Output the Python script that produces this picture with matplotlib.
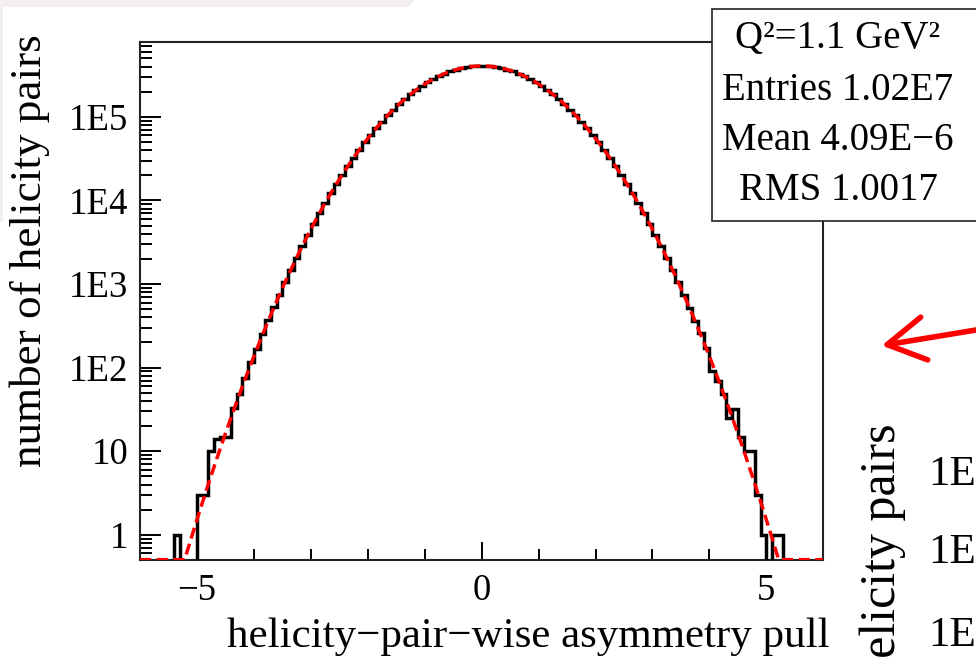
import numpy as np
import matplotlib
matplotlib.use("Agg")
import matplotlib.pyplot as plt
from matplotlib.patches import Rectangle, Polygon, FancyArrowPatch
from matplotlib.ticker import FixedLocator, FixedFormatter, LogLocator, NullFormatter, MultipleLocator

# ---------------- data ----------------
x_range = (-6.0, 6.0)
n_bins = 120
# histogram contents (bin width 0.1, from -6 to 6)
counts = [
    0, 0, 0, 0, 0, 0, 1, 0, 0, 0,
    3, 3, 10, 14, 15, 15, 33, 48, 76, 118,
    166, 250, 370, 525, 746, 1059, 1488, 2069, 2850, 3886,
    5245, 7010, 9274, 12150, 15760, 20240, 25720, 32370, 40340, 49770,
    60790, 73510, 88000, 104310, 122410, 142210, 163580, 186290, 210040, 234470,
    259130, 283530, 307150, 329410, 349780, 367720, 382730, 394380, 402350, 406390,
    406390, 402350, 394380, 382730, 367720, 349780, 329410, 307150, 283530, 259130,
    234470, 210040, 186290, 163580, 142210, 122410, 104310, 88000, 73510, 60790,
    49770, 40340, 32370, 25720, 20240, 15760, 12150, 9274, 7010, 5245,
    3886, 2850, 2069, 1488, 1059, 746, 521, 360, 257, 170,
    90, 70, 48, 25, 32, 15, 10, 10, 3, 1,
    0, 1, 1, 0, 0, 0, 0, 0, 0, 0,
]
# gaussian fit parameters
fit_amplitude = 4.07e5
fit_mean = 0.0
fit_sigma = 1.0

y_ticks = [1, 10, 1e2, 1e3, 1e4, 1e5]
y_tick_labels = ["1", "10", "1E2", "1E3", "1E4", "1E5"]
x_ticks = [-5, 0, 5]
x_tick_labels = ["\u22125", "0", "5"]

stats_lines = ["Q\u00b2=1.1 GeV\u00b2", "Entries 1.02E7", "Mean 4.09E\u22126", "RMS 1.0017"]
x_label = "helicity\u2212pair\u2212wise asymmetry pull"
y_label = "number of helicity pairs"
side_labels = ["1E6", "1E5", "1E4"]

# ---------------- figure ----------------
plt.rcParams['font.family'] = ['Liberation Serif', 'DejaVu Serif']
W, H = 976, 659
fig = plt.figure(figsize=(W / 100, H / 100), dpi=100)
fig.patch.set_facecolor('white')


def fx(px):
    return px / W


def fy(py):
    return 1 - py / H


# pale screenshot border (top-left)
fig.add_artist(Polygon([(fx(0), fy(0)), (fx(415), fy(0)), (fx(408), fy(7)),
                        (fx(3), fy(7)), (fx(3), fy(222)), (fx(0), fy(222))],
                       closed=True, transform=fig.transFigure,
                       facecolor='#f2eef2', edgecolor='none', zorder=0))

ax_l, ax_r, ax_t, ax_b = 140, 823.3, 41.7, 560
ax = fig.add_axes([fx(ax_l), fy(ax_b), (ax_r - ax_l) / W, (ax_b - ax_t) / H])
ymin, ymax = 0.5, 7.93e5

edges = np.linspace(x_range[0], x_range[1], n_bins + 1)
vals = np.array(counts, dtype=float)
plot_vals = np.where(vals > 0, vals, 1e-3)
ax.stairs(plot_vals, edges, color='black', lw=2.5, baseline=None, zorder=3)

xf = np.linspace(x_range[0], x_range[1], 1200)
yf = fit_amplitude * np.exp(-0.5 * ((xf - fit_mean) / fit_sigma) ** 2)
yf = np.maximum(yf, ymin * 1.01)
ax.plot(xf, yf, color='red', lw=2.5, ls=(0, (3.2, 1.6)), zorder=4)

ax.set_yscale('log')
ax.set_xlim(*x_range)
ax.set_ylim(ymin, ymax)

ax.yaxis.set_major_locator(FixedLocator(y_ticks))
ax.yaxis.set_major_formatter(FixedFormatter(y_tick_labels))
ax.yaxis.set_minor_locator(LogLocator(base=10, subs=np.arange(2, 10), numticks=20))
ax.yaxis.set_minor_formatter(NullFormatter())
ax.xaxis.set_major_locator(FixedLocator(x_ticks))
ax.xaxis.set_major_formatter(FixedFormatter(x_tick_labels))
ax.xaxis.set_minor_locator(MultipleLocator(1))

ax.tick_params(axis='y', which='major', direction='in', length=15, width=1.4,
               left=True, right=False, labelsize=26.5, pad=8.5)
ax.tick_params(axis='y', which='minor', direction='in', length=8.5, width=1.4,
               left=True, right=False)
ax.tick_params(axis='x', which='major', direction='in', length=13, width=1.4,
               bottom=True, top=False, labelsize=26.5, pad=10)
ax.tick_params(axis='x', which='minor', direction='in', length=8, width=1.4,
               bottom=True, top=False)
for s in ax.spines.values():
    s.set_linewidth(1.5)
    s.set_color('#222222')

# axis titles (ROOT style, right/top aligned)
fig.text(fx(830), fy(647), x_label, ha='right', va='baseline', fontsize=31)
fig.text(fx(30), fy(34), y_label, ha='center', va='top', rotation=90, fontsize=32.5)

# stats box
fig.add_artist(Rectangle((fx(711.7), fy(221)), (1100 - 711.7) / W, (221 - 9.3) / H,
                         transform=fig.transFigure, facecolor='white',
                         edgecolor='#222222', lw=1.2, zorder=10))
for line, base in zip(stats_lines, [48, 100, 150, 200]):
    fig.text(fx(838), fy(base), line, ha='center', va='baseline', fontsize=28, zorder=11)

# neighbouring panel (cut off at the image edge, as in the reference)
fig.text(fx(883), fy(423), y_label, ha='center', va='top', rotation=90, fontsize=36)
for lab, yc in zip(side_labels, [475, 553, 636]):
    fig.text(fx(928), fy(yc), lab, ha='left', va='center', fontsize=31)

# red arrow
fig.add_artist(FancyArrowPatch(
    (982, H - 329), (879, H - 346), transform=None,
    arrowstyle='->,head_length=4.5,head_width=2.6', color='red', lw=4,
    mutation_scale=6, zorder=12, capstyle='round', joinstyle='round'))

fig.savefig('out.png', dpi=100)
